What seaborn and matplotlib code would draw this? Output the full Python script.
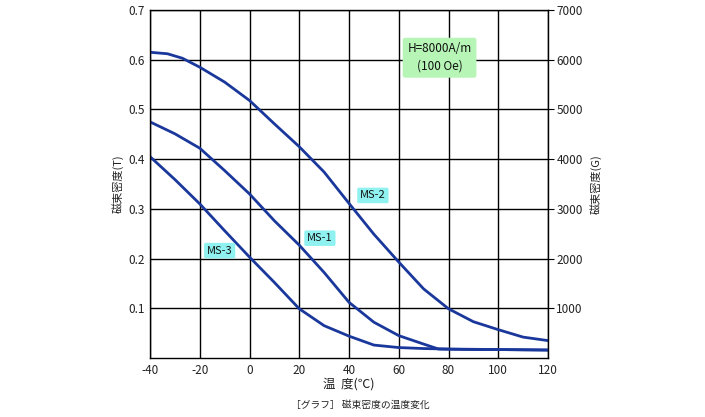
import matplotlib
matplotlib.use("Agg")
import matplotlib.pyplot as plt
import seaborn as sns
import pandas as pd

# ---- data ----
temp_ms2 = [-40, -33, -27, -20, -10, 0, 10, 20, 30, 40, 50, 60, 70, 80, 90, 100, 110, 120]
ms2 = [0.615, 0.612, 0.603, 0.585, 0.555, 0.518, 0.471, 0.425, 0.374, 0.311, 0.249, 0.193, 0.139, 0.099, 0.073, 0.057, 0.042, 0.035]

temp_ms1 = [-40, -30, -20, -10, 0, 10, 20, 30, 40, 50, 60, 70, 76, 90, 100, 120]
ms1 = [0.475, 0.451, 0.422, 0.377, 0.330, 0.276, 0.227, 0.172, 0.112, 0.072, 0.045, 0.028, 0.018, 0.017, 0.017, 0.016]

temp_ms3 = [-40, -30, -20, -10, 0, 10, 20, 30, 40, 50, 60, 70, 80, 100, 120]
ms3 = [0.405, 0.359, 0.310, 0.256, 0.203, 0.152, 0.099, 0.065, 0.044, 0.026, 0.021, 0.019, 0.018, 0.017, 0.016]

x_ticks = [-40, -20, 0, 20, 40, 60, 80, 100, 120]
y_ticks = [0.1, 0.2, 0.3, 0.4, 0.5, 0.6, 0.7]
g_ticks = [1000, 2000, 3000, 4000, 5000, 6000, 7000]

series_labels = ["MS-2", "MS-1", "MS-3"]
label_pos = [(49.6, 0.327), (28.3, 0.241), (-12.0, 0.216)]

df = pd.concat([
    pd.DataFrame({"temp": temp_ms2, "B": ms2, "series": "MS-2"}),
    pd.DataFrame({"temp": temp_ms1, "B": ms1, "series": "MS-1"}),
    pd.DataFrame({"temp": temp_ms3, "B": ms3, "series": "MS-3"}),
])

sns.set_style("white")
plt.rcParams['font.family'] = ['Noto Sans CJK JP', 'DejaVu Sans']

fig = plt.figure(figsize=(7.05, 4.17), dpi=100)
ax = fig.add_axes([0.2128, 0.1415, 0.5645, 0.8345])

line_color = "#1a389c"
sns.lineplot(data=df, x="temp", y="B", hue="series", estimator=None, sort=False,
             palette={s: line_color for s in series_labels}, linewidth=2.0,
             legend=False, ax=ax)

ax.set_xlim(-40, 120)
ax.set_ylim(0, 0.7)
ax.set_xticks(x_ticks)
ax.set_xticklabels([str(t) for t in x_ticks])
ax.set_yticks(y_ticks)
ax.set_yticklabels([f"{v:.1f}" for v in y_ticks])
ax.grid(True, color="black", linewidth=1.0)
ax.set_axisbelow(True)
for sp in ax.spines.values():
    sp.set_color("black")
    sp.set_linewidth(1.0)
ax.tick_params(axis="both", length=0, labelsize=8.5, colors="#222222", pad=4)
ax.set_xlabel("温  度(℃)", fontsize=9, labelpad=1, color="#222222")
ax.set_ylabel("磁束密度(T)", fontsize=8, labelpad=3, color="#222222")

ax2 = ax.twinx()
ax2.set_ylim(0, 7000)
ax2.set_yticks(g_ticks)
ax2.set_yticklabels([str(v) for v in g_ticks])
ax2.tick_params(axis="y", length=4, labelsize=8.5, colors="#222222", pad=2)
ax2.tick_params(axis="y", color="black")
ax2.set_ylabel("磁束密度(G)", fontsize=8, labelpad=5, color="#222222", rotation=90)
for sp in ax2.spines.values():
    sp.set_visible(False)

for lab, (x, y) in zip(series_labels, label_pos):
    ax.text(x, y, lab, ha="center", va="center", fontsize=8, color="#111111",
            bbox=dict(boxstyle="round,pad=0.25,rounding_size=0.15", fc="#8ff2f0", ec="none"),
            zorder=5)

ax.text(76.4, 0.604, "H=8000A/m\n(100 Oe)", ha="center", va="center", fontsize=8.5,
        color="#111111", linespacing=1.45,
        bbox=dict(boxstyle="round,pad=0.4,rounding_size=0.2", fc="#b6f5b6", ec="none"),
        zorder=5)

fig.text(0.511, 0.028, "［グラフ］ 磁束密度の温度変化", ha="center", va="center",
         fontsize=7, color="#222222")

fig.savefig("out.png", dpi=100)
